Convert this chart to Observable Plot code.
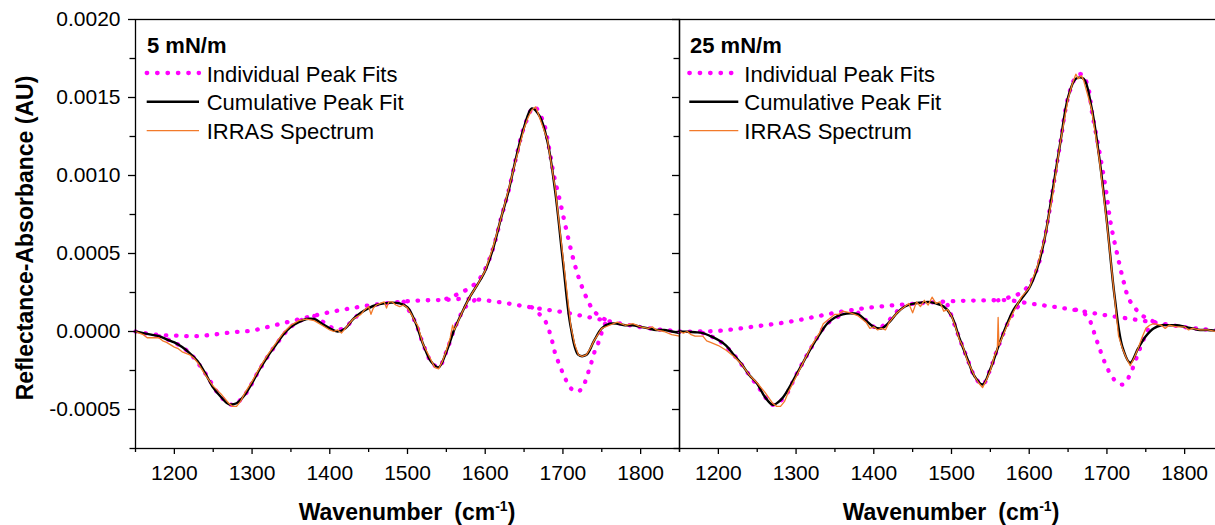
<!DOCTYPE html>
<html><head><meta charset="utf-8">
<script src="https://cdn.jsdelivr.net/npm/d3@7"></script>
<script src="https://cdn.jsdelivr.net/npm/@observablehq/plot@0.6"></script>
<style>
html,body{margin:0;padding:0;background:#fff;overflow:hidden;width:1215px;height:525px;}
#wrap{position:relative;width:1215px;height:525px;overflow:hidden;background:#fff;}
</style></head>
<body><div id="wrap"></div>
<script>
// ---------- tick values & labels ----------
const xMajor = [1200,1300,1400,1500,1600,1700,1800];
const xMinor = [1150,1250,1350,1450,1550,1650,1750,1850];
const yMajor = [-0.0005,0,0.0005,0.001,0.0015,0.002];
const yMinor = [-0.00075,-0.00025,0.00025,0.00075,0.00125,0.00175];
const panelLabels = ["5 mN/m","25 mN/m"];
const legendLabels = ["Individual Peak Fits","Cumulative Peak Fit","IRRAS Spectrum"];
const xTitle = "Wavenumber", xUnit = "(cm", xSup = "-1";
const yTitle = "Reflectance-Absorbance (AU)";

// ---------- cumulative peak fit (shared wavenumber grid) ----------
const wavenumbers = [1150,1160,1170,1180,1190,1200,1210,1220,1230,1240,1250,1260,1270,1280,1290,1300,1310,1320,1330,1340,1350,1360,1370,1380,1390,1400,1410,1420,1430,1440,1450,1460,1470,1480,1490,1500,1510,1520,1530,1540,1550,1560,1570,1580,1590,1600,1610,1620,1630,1640,1650,1660,1670,1680,1690,1700,1710,1720,1730,1740,1750,1760,1770,1780,1790,1800,1810,1820,1830,1840,1850];
const fit5 = [0,-0.00001,-0.00002,-0.00003,-0.00005,-0.00007,-0.0001,-0.00014,-0.00019,-0.00027,-0.00036,-0.00042,-0.000465,-0.00046,-0.00041,-0.00033,-0.00024,-0.00016,-0.00009,-0.00002,0.00003,0.00006,0.00008,0.00008,0.00005,0.00002,0.0,0.00002,0.00008,0.00012,0.00015,0.00017,0.00018,0.000185,0.00018,0.000155,0.00006,-0.00008,-0.00019,-0.00023,-0.00013,0.00001,0.00012,0.00022,0.0003,0.00039,0.00053,0.00072,0.0009,0.00112,0.00131,0.00143,0.00138,0.00122,0.0009,0.00045,0.00003,-0.00015,-0.00015,-0.00006,0.00002,0.00005,0.00005,0.00004,0.00004,0.00003,0.00002,0.00001,0.00001,0.0,-0.00001];
const fit25 = [0,-0.000002,-0.000005,-0.00001,-0.00003,-0.000055,-0.00009,-0.00015,-0.00021,-0.00028,-0.000335,-0.00042,-0.00047,-0.00044,-0.00037,-0.00028,-0.00019,-0.0001,-0.00002,0.00005,0.00009,0.00011,0.000117,0.00011,0.00007,0.00003,0.00002,0.00006,0.00012,0.00016,0.000177,0.000185,0.00019,0.00018,0.00016,0.0001,-0.00004,-0.00017,-0.00029,-0.00034,-0.00024,-0.0001,0.00003,0.00014,0.00021,0.00028,0.0004,0.0006,0.0009,0.00121,0.0015,0.00162,0.00162,0.00144,0.00112,0.0007,0.00022,-0.0001,-0.0002,-0.00011,-0.00003,0.00002,0.00004,0.00004,0.00004,0.00003,0.00002,0.00001,0.00001,0.000005,0];

// ---------- IRRAS spectra ----------
const irras5X = [1150,1155,1160,1165,1170,1180,1185,1190,1200,1205,1210,1215,1220,1225,1230,1240,1250,1260,1265,1270,1275,1280,1285,1290,1300,1310,1320,1330,1340,1350,1360,1370,1380,1390,1400,1405,1410,1415,1420,1430,1440,1445,1450,1453,1456,1460,1465,1470,1473,1476,1480,1485,1490,1495,1500,1505,1508,1510,1513,1520,1530,1535,1540,1545,1550,1555,1558,1560,1563,1570,1580,1590,1600,1610,1620,1630,1640,1650,1655,1660,1665,1670,1680,1690,1700,1710,1715,1720,1725,1730,1735,1740,1745,1750,1760,1770,1780,1790,1800,1810,1815,1820,1830,1840,1850];
const irras5Y = [0,-0.00001,-0.00002,-0.00004,-0.00004,-0.00004,-0.00006,-0.00007,-0.0001,-0.00011,-0.00013,-0.00014,-0.00015,-0.00017,-0.0002,-0.00028,-0.00035,-0.0004,-0.00043,-0.00046,-0.00048,-0.00048,-0.00045,-0.0004,-0.00032,-0.00023,-0.00015,-0.00008,-0.00001,0.00004,0.00007,0.00008,0.00007,0.00004,0.00001,0.0,0.00001,-0.00001,0.00002,0.00008,0.00011,0.00014,0.00016,0.00011,0.00015,0.00017,0.00018,0.00019,0.00015,0.00019,0.00019,0.00017,0.00016,0.00017,0.00015,0.00011,0.00008,0.00006,0.00004,-0.00008,-0.00018,-0.00023,-0.00024,-0.00019,-0.00012,-0.00004,0.00004,0.00001,0.00004,0.00012,0.00022,0.0003,0.00039,0.00054,0.00072,0.00091,0.00111,0.0013,0.00137,0.00142,0.00144,0.00137,0.00123,0.00092,0.00048,0.00004,-0.00008,-0.00015,-0.00016,-0.00015,-0.00011,-0.00006,-0.00002,0.00002,0.00004,0.00006,0.00004,0.00005,0.00003,0.00002,0.00003,0.00001,0.0,-0.00002,-0.00003];
const irras25X = [1150,1155,1160,1165,1170,1180,1185,1190,1200,1210,1220,1230,1240,1250,1260,1270,1275,1280,1285,1290,1300,1310,1320,1330,1335,1340,1350,1355,1360,1370,1380,1390,1395,1400,1405,1410,1415,1420,1430,1440,1445,1450,1455,1460,1465,1470,1475,1480,1485,1490,1495,1500,1505,1510,1515,1520,1530,1535,1540,1545,1550,1555,1559,1560,1561,1565,1570,1580,1590,1600,1610,1620,1630,1640,1650,1655,1660,1663,1667,1670,1680,1690,1700,1710,1715,1720,1725,1730,1735,1740,1745,1750,1755,1760,1770,1775,1780,1790,1800,1805,1810,1820,1830,1840,1850];
const irras25Y = [0,-0.00001,0,-0.00002,-0.00003,-0.00003,-0.00006,-0.00007,-0.00009,-0.00012,-0.00016,-0.00021,-0.00028,-0.00033,-0.00039,-0.00046,-0.00048,-0.00048,-0.00045,-0.00039,-0.00029,-0.00019,-0.00009,-0.00001,0.00005,0.00007,0.00011,0.00011,0.00013,0.00012,0.0001,0.00006,0.00002,0.00003,0.00001,0.00002,0.00001,0.00006,0.00012,0.00016,0.00018,0.00012,0.00019,0.00016,0.0002,0.00017,0.00022,0.00018,0.00019,0.00013,0.00014,0.0001,0.00003,-0.00005,-0.0001,-0.00018,-0.00029,-0.00033,-0.00036,-0.00031,-0.00025,-0.00016,-0.00011,0.00009,-0.00009,-0.00004,0.00002,0.00013,0.00022,0.00028,0.00041,0.0006,0.00087,0.00121,0.00149,0.00158,0.00165,0.00162,0.00164,0.00161,0.00143,0.00111,0.00069,0.00021,-0.00003,-0.00011,-0.00017,-0.00022,-0.00017,-0.00011,-0.00004,0.00002,0.00004,0.00005,0.00004,0.00002,0.00004,0.00003,0.00003,0.00001,0.00002,0.00001,0.00001,0.0,-0.00001];

// ---------- individual peak fits, 5 mN/m ----------
const hump5X = [1150,1175,1200,1225,1250,1275,1300,1325,1350,1375,1400,1425,1450,1475,1500,1525,1550,1575,1600,1625,1650,1675,1700,1725,1750,1775,1800,1825,1850];
const hump5Y = [0,-0.00002,-0.000026,-0.00003,-0.00002,-0.000005,0.000006,0.000035,0.000066,0.000096,0.000124,0.000147,0.000167,0.000182,0.000194,0.0002,0.000203,0.00021,0.0002,0.000183,0.000162,0.000143,0.000124,0.0001,0.000075,0.00005,0.000028,0.000012,0.000002];
const band1275_5X = [1180,1200,1220,1240,1260,1275,1290,1310,1330,1350,1370];
const band1275_5Y = [-0.00003,-0.00007,-0.00014,-0.00027,-0.00042,-0.00047,-0.00041,-0.00024,-0.00009,0.00003,0.00009];
const band1410_5X = [1380,1395,1410,1425,1440];
const band1410_5Y = [0.0001,0.00005,0.00001,0.00005,0.00013];
const band1540_5X = [1495,1510,1520,1530,1540,1550,1560,1575,1590];
const band1540_5Y = [0.00019,0.00006,-0.00008,-0.00019,-0.00023,-0.00013,0.00001,0.00016,0.00021];
const band1660_5X = [1550,1565,1580,1590,1600,1610,1620,1630,1640,1650,1663,1675,1682,1688,1696,1704,1712,1720,1730,1740,1750,1760];
const band1660_5Y = [0.00021,0.00024,0.00028,0.00032,0.0004,0.00053,0.00072,0.0009,0.00112,0.00131,0.00144,0.00134,0.00118,0.00101,0.00084,0.00066,0.00049,0.00035,0.00022,0.00013,0.00009,0.00006];
const band1720_5X = [1660,1670,1678,1685,1690,1696,1702,1708,1714,1720,1727,1732,1736,1740,1745,1749,1753,1758];
const band1720_5Y = [0.000155,0.00011,0.00006,-0.00004,-0.00014,-0.00022,-0.00029,-0.00035,-0.00038,-0.000385,-0.00034,-0.00027,-0.00021,-0.00014,-0.00008,-0.00002,0.00004,0.00007];

// ---------- individual peak fits, 25 mN/m ----------
const hump25X = [1150,1175,1200,1225,1250,1275,1300,1325,1350,1375,1400,1425,1450,1475,1500,1525,1550,1575,1600,1625,1650,1675,1700,1725,1750,1775,1800,1825,1850];
const hump25Y = [0,0,0.000004,0.000018,0.000034,0.00005,0.00007,0.000095,0.00012,0.00014,0.000156,0.000168,0.000177,0.000186,0.000194,0.000198,0.0002,0.0002,0.00018,0.000163,0.000145,0.000124,0.000103,0.000085,0.000066,0.000047,0.000028,0.000014,0.000005];
const band1270_25X = [1180,1200,1220,1240,1255,1270,1285,1300,1320,1340,1360];
const band1270_25Y = [-0.00001,-0.000055,-0.00015,-0.00028,-0.00038,-0.00047,-0.00042,-0.00028,-0.0001,0.00005,0.00011];
const band1405_25X = [1380,1395,1405,1415,1430];
const band1405_25Y = [0.00012,0.00005,0.00002,0.00005,0.00013];
const band1540_25X = [1495,1510,1520,1530,1540,1550,1560,1575,1590];
const band1540_25Y = [0.00017,-0.00004,-0.00017,-0.00029,-0.00034,-0.00024,-0.0001,0.00008,0.00019];
const band1665_25X = [1560,1575,1590,1600,1610,1620,1630,1640,1650,1660,1667,1675,1681,1690,1698,1705,1713,1722,1728,1735,1743,1754,1765];
const band1665_25Y = [0.0002,0.00022,0.00025,0.0003,0.0004,0.0006,0.0009,0.00121,0.0015,0.00163,0.00165,0.00158,0.0014,0.00116,0.00093,0.00069,0.0005,0.00031,0.00021,0.00016,0.00011,0.00008,0.00005];
const band1720_25X = [1660,1670,1678,1685,1692,1700,1708,1714,1720,1726,1732,1738,1744,1750,1756,1762];
const band1720_25Y = [0.00014,0.00012,0.00007,-0.00003,-0.00013,-0.00023,-0.0003,-0.00033,-0.00034,-0.00031,-0.00025,-0.00017,-0.00009,-0.00002,0.00004,0.00006];

// ---------- drawing ----------
const MAGENTA = "#ff00ff", ORANGE = "#f27a2a", FONT = '"Liberation Sans", Arial, Helvetica, sans-serif';
const DOTS = {stroke: MAGENTA, strokeWidth: 4.3, strokeDasharray: "0.5 9.7", strokeLinecap: "round"};
const toRows = (xs, ys) => xs.map((x, i) => ({x, y: ys[i]}));
const wrap = document.getElementById("wrap");

function makePanel({fit, irrasX, irrasY, peaks, label, showYLabels, left, width, marginLeft, legend}) {
  const svg = Plot.plot({
    width, height: 525, marginLeft, marginRight: 0, marginTop: 19, marginBottom: 77,
    style: `position:absolute;left:${left}px;top:0;background:transparent;overflow:visible;max-width:none;color:#000;font-family:${FONT};`,
    x: {domain: [1150, 1850]},
    y: {domain: [-0.00075, 0.002]},
    marks: [
      ...peaks.map(([xs, ys]) => Plot.line(toRows(xs, ys), {x: "x", y: "y", ...DOTS, curve: "catmull-rom"})),
      Plot.line(toRows(wavenumbers, fit), {x: "x", y: "y", stroke: "#000", strokeWidth: 2.4, curve: "catmull-rom"}),
      Plot.line(toRows(irrasX, irrasY), {x: "x", y: "y", stroke: ORANGE, strokeWidth: 1.3}),
      Plot.frame({stroke: "#000", strokeWidth: 1.3}),
      Plot.axisX({ticks: xMajor, tickSize: 6, tickPadding: 11, tickFormat: d => String(d), fontSize: 21, label: null, strokeWidth: 1.3}),
      Plot.axisX({ticks: xMinor, tickSize: 4, tickFormat: () => "", label: null, strokeWidth: 1.3}),
      Plot.axisY({ticks: yMajor, tickSize: 7, tickPadding: 8, tickFormat: showYLabels ? d => d.toFixed(4) : () => "", fontSize: 21, label: null, strokeWidth: 1.3}),
      Plot.axisY({ticks: yMinor, tickSize: 5.5, tickFormat: () => "", label: null, strokeWidth: 1.3})
    ]
  });
  wrap.appendChild(svg);
  const g = d3.select(svg).append("g").attr("font-family", FONT).attr("fill", "#000").attr("text-anchor", "start");
  const fx0 = marginLeft, fx1 = width, fxc = (fx0 + fx1) / 2;
  // panel label
  g.append("text").attr("x", fx0 + legend.label).attr("y", 53).attr("font-size", 22).attr("font-weight", "bold").text(label);
  // legend entries
  const rowsY = [73, 101.7, 130.7], textY = [81.5, 110, 138.5];
  const styles = [
    {stroke: MAGENTA, "stroke-width": 4.3, "stroke-dasharray": "0.5 9.9", "stroke-linecap": "round"},
    {stroke: "#000", "stroke-width": 2.4},
    {stroke: ORANGE, "stroke-width": 1.3}
  ];
  legendLabels.forEach((t, i) => {
    const ln = g.append("line").attr("x1", fx0 + legend.l0).attr("x2", fx0 + legend.l1).attr("y1", rowsY[i]).attr("y2", rowsY[i]);
    Object.entries(styles[i]).forEach(([k, v]) => ln.attr(k, v));
    g.append("text").attr("x", fx0 + legend.t).attr("y", textY[i]).attr("font-size", 22).text(t);
  });
  // x title
  const xt = g.append("text").attr("x", fxc).attr("y", 520).attr("text-anchor", "middle").attr("font-size", 23).attr("font-weight", "bold");
  xt.append("tspan").text(xTitle);
  xt.append("tspan").attr("dx", 12).text(xUnit);
  xt.append("tspan").attr("font-size", 14).attr("dy", -9).text(xSup);
  xt.append("tspan").attr("dy", 9).text(")");
  if (showYLabels) {
    g.append("text").attr("transform", "translate(33,238) rotate(-90)").attr("text-anchor", "middle")
      .attr("font-size", 23).attr("font-weight", "bold").text(yTitle);
  }
}

makePanel({
  fit: fit5, irrasX: irras5X, irrasY: irras5Y,
  peaks: [[hump5X, hump5Y], [band1275_5X, band1275_5Y], [band1410_5X, band1410_5Y], [band1540_5X, band1540_5Y], [band1660_5X, band1660_5Y], [band1720_5X, band1720_5Y]],
  label: panelLabels[0], showYLabels: true, left: 0, width: 679, marginLeft: 135,
  legend: {label: 12, l0: 11.7, l1: 64, t: 71.7}
});
makePanel({
  fit: fit25, irrasX: irras25X, irrasY: irras25Y,
  peaks: [[hump25X, hump25Y], [band1270_25X, band1270_25Y], [band1405_25X, band1405_25Y], [band1540_25X, band1540_25Y], [band1665_25X, band1665_25Y], [band1720_25X, band1720_25Y]],
  label: panelLabels[1], showYLabels: false, left: 678, width: 545, marginLeft: 1,
  legend: {label: 11, l0: 10.3, l1: 59.3, t: 65.3}
});
</script></body></html>
